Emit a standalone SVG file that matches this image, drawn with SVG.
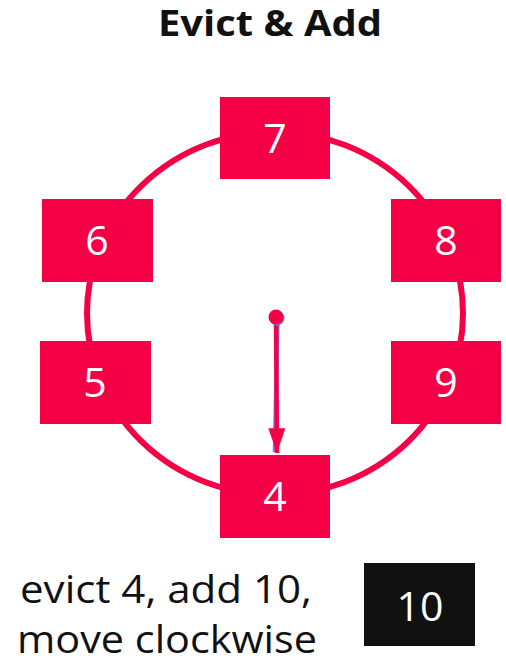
<svg xmlns="http://www.w3.org/2000/svg" width="506" height="663" viewBox="0 0 506 663">
<style>
.box{fill:#F50046}
.num{fill:#fff;font-family:"Open Sans","Liberation Sans",sans-serif;font-size:41px;text-anchor:middle}
.txt{fill:#111;font-family:"Open Sans","Liberation Sans",sans-serif;font-size:39px;text-anchor:middle}
</style>
<defs>
<marker id="ah" viewBox="0 0 10 10" refX="10" refY="5" markerWidth="5.5" markerHeight="3.8" orient="auto" markerUnits="strokeWidth" preserveAspectRatio="none">
<path d="M0,0 L10,5 L0,10 Z" fill="#F50046"/>
</marker>
</defs>
<rect width="506" height="663" fill="#fff"/>
<text x="270" y="36" font-family="'Open Sans','Liberation Sans',sans-serif" font-weight="bold" font-size="35" text-anchor="middle" fill="#111" textLength="224" lengthAdjust="spacingAndGlyphs">Evict &amp; Add</text>
<g id="connectors">
<ellipse cx="275" cy="313.5" rx="188" ry="181.5" fill="none" stroke="#F50046" stroke-width="6"/>
<line x1="277.5" y1="318" x2="275" y2="452" stroke="#6f7cff" stroke-width="4.5"/>
<line x1="276" y1="317" x2="277" y2="453" stroke="#F50046" stroke-width="4.5" marker-end="url(#ah)"/>
<circle cx="277" cy="318" r="7.5" fill="#6f7cff"/>
<circle cx="276" cy="317" r="7.5" fill="#F50046"/>
</g>
<g id="n7"><rect class="box" x="220" y="97" width="110" height="82"/><text class="num" x="275" y="153">7</text></g>
<g id="n6"><rect class="box" x="42" y="199" width="111" height="83"/><text class="num" x="97" y="255">6</text></g>
<g id="n8"><rect class="box" x="391" y="199" width="110" height="83"/><text class="num" x="446" y="255">8</text></g>
<g id="n5"><rect class="box" x="40" y="341" width="111" height="83"/><text class="num" x="95" y="397">5</text></g>
<g id="n9"><rect class="box" x="391" y="341" width="110" height="83"/><text class="num" x="446" y="397">9</text></g>
<g id="n4"><rect class="box" x="220" y="455" width="110" height="83"/><text class="num" x="275" y="511">4</text></g>
<g id="caption">
<text class="txt" x="166" y="603" textLength="292" lengthAdjust="spacingAndGlyphs">evict 4, add 10,</text>
<text class="txt" x="167" y="653" textLength="300" lengthAdjust="spacingAndGlyphs">move clockwise</text>
</g>
<g id="n10"><rect x="364" y="563" width="111" height="83" fill="#111"/><text class="num" x="420" y="621">10</text></g>
</svg>
